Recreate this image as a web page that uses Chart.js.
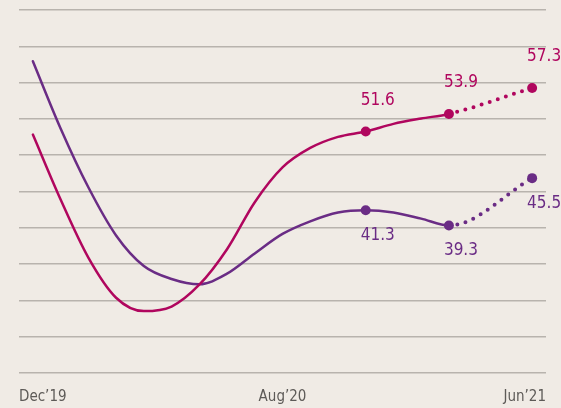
<!DOCTYPE html>
<html>
<head>
<meta charset="utf-8">
<script src="https://cdn.jsdelivr.net/npm/chart.js@4/dist/chart.umd.min.js"></script>
<style>
  html, body { margin: 0; padding: 0; background: #f0ebe5; }
  #wrap { width: 561px; height: 408px; }
</style>
</head>
<body>
<div id="wrap"><canvas id="chart" width="561" height="408"></canvas></div>
<script>
// months after Dec'19 (0 = Dec'19, 18 = Jun'21)
const months = [0, 1, 2, 3, 4, 5, 6, 7, 8, 9, 10, 11, 12, 13, 14, 15, 18];
const magentaValues = [51.2, 42.7, 35.1, 29.85, 28.1, 28.7, 31.55, 36.2, 42.35, 46.9, 49.45, 50.9, 51.6, 52.6, 53.3, 53.9, 57.3];
const purpleValues = [60.8, 52.0, 44.3, 38.0, 34.0, 32.3, 31.6, 33.0, 35.65, 38.2, 39.85, 41.0, 41.3, 41.0, 40.2, 39.3, 45.5];
// points that carry a dot and a value label
const markedIdx = [12, 15, 16];
// dotted from this index on
const forecastFrom = 15;
const tickLabels = ["Dec\u201919", "Aug\u201920", "Jun\u201921"];

const MAGENTA = "#b0065e";
const PURPLE = "#6a2c85";
const FONT = "'DejaVu Sans Condensed', 'Liberation Sans Narrow', Roboto, sans-serif";

const toPoints = (vals) => vals.map((v, i) => ({ x: months[i], y: v }));

const makeDataset = (vals, color, labelPos) => ({
  data: toPoints(vals),
  borderColor: color,
  backgroundColor: color,
  borderWidth: 2.5,
  borderCapStyle: "round",
  cubicInterpolationMode: "monotone",
  pointRadius: (ctx) => (markedIdx.includes(ctx.dataIndex) ? 5 : 0),
  pointHoverRadius: 0,
  pointBorderWidth: 0,
  labelPos: labelPos,
  segment: {
    borderDash: (ctx) => (ctx.p0DataIndex >= forecastFrom ? [0, 8.5] : undefined),
    borderWidth: (ctx) => (ctx.p0DataIndex >= forecastFrom ? 4 : undefined),
  },
});

const valueLabels = {
  id: "valueLabels",
  afterDatasetsDraw(chart) {
    const c = chart.ctx;
    c.save();
    c.font = "17px " + FONT;
    c.textAlign = "center";
    c.textBaseline = "middle";
    chart.data.datasets.forEach((ds, di) => {
      const meta = chart.getDatasetMeta(di);
      markedIdx.forEach((i) => {
        const el = meta.data[i];
        const dy = ds.labelPos === "above" ? -31 : 25;
        c.fillStyle = ds.borderColor;
        c.fillText(String(ds.data[i].y), el.x + 12, el.y + dy);
      });
    });
    c.restore();
  },
};

new Chart(document.getElementById("chart"), {
  type: "line",
  data: {
    datasets: [
      makeDataset(magentaValues, MAGENTA, "above"),
      makeDataset(purpleValues, PURPLE, "below"),
    ],
  },
  options: {
    responsive: false,
    animation: false,
    layout: { padding: { left: 19, right: 14, top: 10, bottom: 2 } },
    plugins: { legend: { display: false }, tooltip: { enabled: false } },
    scales: {
      x: {
        type: "linear",
        min: -0.5,
        max: 18.5,
        grid: { display: false, drawTicks: false },
        border: { display: false },
        afterBuildTicks: (axis) => {
          axis.ticks = [axis.min, (axis.min + axis.max) / 2, axis.max].map((v) => ({ value: v }));
        },
        afterFit: (axis) => { axis.height = 33; },
        ticks: {
          align: "inner",
          maxRotation: 0,
          autoSkip: false,
          padding: 15,
          color: "#5d5a57",
          font: { family: FONT, size: 15 },
          callback: (v, i) => tickLabels[i],
        },
      },
      y: {
        min: 20,
        max: 67.5,
        afterBuildTicks: (axis) => {
          const n = 10;
          const step = (axis.max - axis.min) / n;
          axis.ticks = [];
          for (let k = 0; k <= n; k++) axis.ticks.push({ value: axis.min + k * step });
        },
        grid: { color: "#b8b3ad", lineWidth: 1.5, drawTicks: false },
        border: { display: false },
        ticks: { display: false },
      },
    },
  },
  plugins: [valueLabels],
});
</script>
</body>
</html>
